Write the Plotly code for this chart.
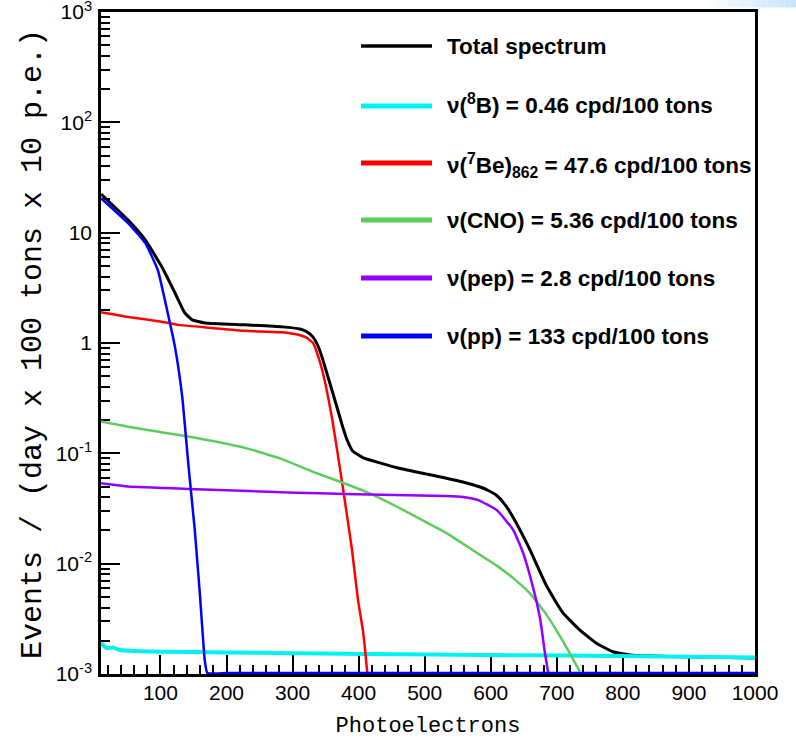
import plotly.graph_objects as go

# ---------------- data: expected neutrino spectra ----------------
x_total = [10, 51, 77, 102, 122, 137, 148, 167, 228, 284, 311, 321, 331, 339, 346, 361,
           376, 382, 391, 407, 432, 458, 508, 558, 584, 597, 609, 621, 634, 659, 685,
           709, 735, 760, 785, 811, 836, 900, 1000]
y_total = [22.4, 13.0, 8.6, 4.9, 2.84, 1.87, 1.62, 1.52, 1.46, 1.40, 1.34, 1.27, 1.13,
           0.925, 0.70, 0.35, 0.173, 0.135, 0.105, 0.091, 0.082, 0.074, 0.064, 0.055,
           0.0495, 0.0458, 0.0415, 0.0347, 0.0262, 0.0135, 0.0062, 0.0036, 0.0025,
           0.0019, 0.00159, 0.00149, 0.00146, 0.00143, 0.00140]

x_b8 = [10, 19, 28, 39, 60, 102, 200, 304, 450, 584, 750, 900, 1000]
y_b8 = [0.0019, 0.00171, 0.00174, 0.00165, 0.00162, 0.00159, 0.00157, 0.00154,
        0.00151, 0.00149, 0.00146, 0.00143, 0.00141]

x_be7 = [10, 51, 102, 127, 178, 228, 284, 305, 321, 331, 339, 346, 361, 376, 390, 399,
         407, 413]
y_be7 = [1.90, 1.72, 1.56, 1.46, 1.37, 1.29, 1.25, 1.20, 1.12, 1.00, 0.75, 0.535, 0.188,
         0.0495, 0.0133, 0.0047, 0.00236, 0.00104]

x_cno = [10, 51, 142, 228, 281, 331, 380, 414, 455, 531, 584, 609, 634, 659, 685, 709, 735]
y_cno = [0.194, 0.174, 0.142, 0.112, 0.090, 0.068, 0.053, 0.044, 0.0335, 0.0192, 0.012,
         0.0096, 0.0074, 0.0054, 0.0034, 0.0020, 0.00105]

x_pep = [10, 51, 142, 304, 379, 531, 558, 581, 609, 634, 649, 664, 675, 682, 687]
y_pep = [0.0535, 0.050, 0.0475, 0.044, 0.0428, 0.0410, 0.0402, 0.0377, 0.0306, 0.0202,
         0.0125, 0.0061, 0.0031, 0.00155, 0.00102]

x_pp = [10, 51, 77, 96, 111, 122, 133, 142, 152, 160, 167, 171, 200, 300, 400, 500,
        600, 700, 800, 900, 1000]
y_pp = [20.5, 12.2, 8.05, 4.59, 1.87, 0.92, 0.324, 0.082, 0.020, 0.0050, 0.00134,
        0.00102, 0.00102, 0.00102, 0.00102, 0.00102, 0.00102, 0.00102, 0.00102,
        0.00102, 0.00102]

legend_labels = [
    "Total spectrum",
    "\u03bd(<sup>8</sup>B) = 0.46 cpd/100 tons",
    "\u03bd(<sup>7</sup>Be)<sub>862</sub> = 47.6 cpd/100 tons",
    "\u03bd(CNO) = 5.36 cpd/100 tons",
    "\u03bd(pep) = 2.8 cpd/100 tons",
    "\u03bd(pp) = 133 cpd/100 tons",
]

x_ticks = [100, 200, 300, 400, 500, 600, 700, 800, 900, 1000]
y_ticks = [1e-3, 1e-2, 1e-1, 1, 10, 1e2, 1e3]
y_ticktext = ["10<sup>-3</sup>", "10<sup>-2</sup>", "10<sup>-1</sup>", "1", "10",
              "10<sup>2</sup>", "10<sup>3</sup>"]

# ---------------- styling ----------------
C_TOTAL, C_B8, C_BE7, C_CNO, C_PEP, C_PP = (
    "#000000", "#00f2f2", "#ff0000", "#5ccc5c", "#9400ff", "#0000ff")

W, H = 796, 739
ML, MR, MT, MB = 101, 41, 12, 65


def paper_x(px):
    return (px - ML) / (W - ML - MR)


def paper_y(py):
    return (H - MB - py) / (H - MT - MB)


fig = go.Figure()

series = [
    (x_total, y_total, C_TOTAL, 3),
    (x_b8, y_b8, C_B8, 4),
    (x_be7, y_be7, C_BE7, 2.5),
    (x_cno, y_cno, C_CNO, 2.5),
    (x_pep, y_pep, C_PEP, 2.5),
    (x_pp, y_pp, C_PP, 2.5),
]
for xs, ys, col, lw in series:
    fig.add_trace(go.Scatter(
        x=xs, y=ys, mode="lines",
        line=dict(color=col, width=lw, shape="spline", smoothing=0.4),
        hoverinfo="skip", showlegend=False))

# legend drawn in the upper right of the frame
legend_rows_py = [46, 106, 163, 220, 278, 336]
legend_text_py = [46, 104, 166, 220, 278, 336]
legend_colors = [C_TOTAL, C_B8, C_BE7, C_CNO, C_PEP, C_PP]
legend_widths = [3.5, 5, 5, 5, 5, 5]
shapes = []
annotations = []
for lab, col, lw, py, ty in zip(legend_labels, legend_colors, legend_widths,
                                legend_rows_py, legend_text_py):
    shapes.append(dict(type="line", xref="paper", yref="paper",
                       x0=paper_x(361), x1=paper_x(432), y0=paper_y(py), y1=paper_y(py),
                       line=dict(color=col, width=lw)))
    annotations.append(dict(xref="paper", yref="paper", x=paper_x(445), y=paper_y(ty),
                            xanchor="left", yanchor="middle", showarrow=False, text=lab,
                            font=dict(family="Liberation Sans", size=22.5, color="black",
                                      weight="bold")))

# y-axis title placed beside the tick labels
annotations.append(dict(xref="paper", yref="paper", x=paper_x(33), y=paper_y(344),
                        xanchor="center", yanchor="middle", showarrow=False,
                        textangle=-90, text="Events / (day x 100 tons x 10 p.e.)",
                        font=dict(family="Liberation Mono", size=30, color="black")))

# pale blue wash along the top right edge
n = 16
for i in range(n):
    t = (i + 1) / n
    r = int(255 - (255 - 200) * t)
    g = int(255 - (255 - 228) * t)
    b = int(255 - (255 - 251) * t)
    x0 = 705 + (796 - 705) * i / n
    x1 = 705 + (796 - 705) * (i + 1) / n
    shapes.append(dict(type="rect", xref="paper", yref="paper", layer="below",
                       x0=paper_x(x0), x1=paper_x(x1), y0=paper_y(7.5), y1=paper_y(0),
                       line=dict(width=0), fillcolor=f"rgb({r},{g},{b})"))

axis_common = dict(
    showline=True, linewidth=2.5, linecolor="black", mirror=True,
    showgrid=False, zeroline=False, ticks="inside", ticklen=19, tickwidth=2,
    tickcolor="black", layer="below traces", ticklabeloverflow="allow",
    automargin=False,
    tickfont=dict(family="Liberation Sans", size=21, color="black"),
)

fig.update_layout(
    width=W, height=H,
    margin=dict(l=ML, r=MR, t=MT, b=MB, autoexpand=False),
    paper_bgcolor="white", plot_bgcolor="rgba(0,0,0,0)",
    showlegend=False,
    shapes=shapes, annotations=annotations,
    xaxis=dict(
        range=[10, 1000], tickvals=x_ticks, ticktext=[str(v) for v in x_ticks],
        minor=dict(dtick=20, tick0=0, ticks="inside", ticklen=9, tickwidth=1.5,
                   tickcolor="black", showgrid=False),
        ticklabelstandoff=-2,
        title=dict(text="Photoelectrons", standoff=14,
                   font=dict(family="Liberation Mono", size=22, color="black")),
        **axis_common),
    yaxis=dict(
        type="log", range=[-3, 3], tickvals=y_ticks, ticktext=y_ticktext,
        ticklabelstandoff=2,
        minor=dict(dtick="D1", ticks="inside", ticklen=9, tickwidth=1.5,
                   tickcolor="black", showgrid=False),
        **axis_common),
)

fig.write_html("out.html")
